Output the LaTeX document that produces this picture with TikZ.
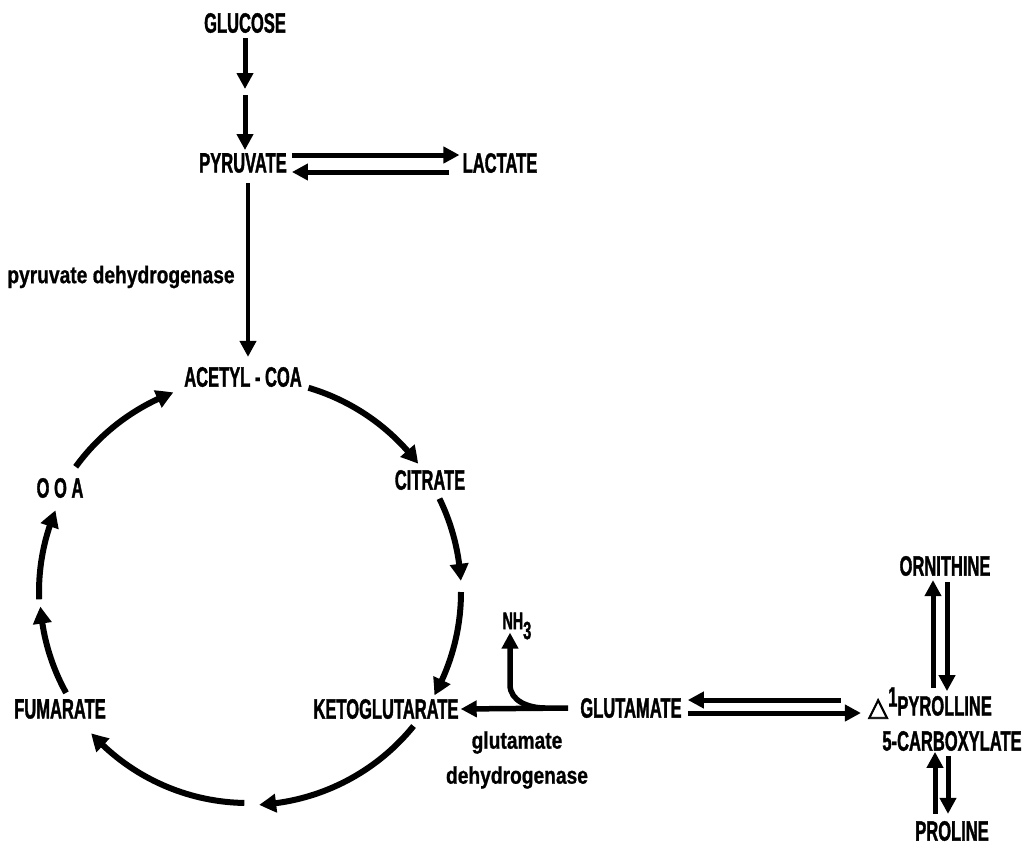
\documentclass[tikz,border=0pt]{standalone}
\usepackage{fontspec}
\setmainfont[FakeStretch=0.59,FakeBold=1.2]{Liberation Sans}
\newfontfamily\lcfont[FakeStretch=0.8,FakeBold=0.8]{Liberation Sans}
\newfontfamily\symfont[FakeBold=3]{DejaVu Sans}
\usetikzlibrary{arrows.meta,bending,calc}
\begin{document}
\begin{tikzpicture}[x=1pt,y=1pt,
  lab/.style={inner sep=0pt, font=\bfseries\fontsize{28}{30}\selectfont},
  enz/.style={inner sep=0pt, align=center, font=\lcfont\bfseries\fontsize{24}{35}\selectfont},
  arr/.style={line width=5pt, -{Triangle[length=16pt,width=16pt]}},
  cyc/.style={line width=6pt, -{Triangle[length=17pt,width=18pt,bend]}}]
\useasboundingbox (0,0) rectangle (1033,-847);
% nodes
\node[lab] (glucose) at (245,-23) {GLUCOSE};
\node[lab] (pyruvate) at (243,-163) {PYRUVATE};
\node[lab] (lactate) at (500,-163) {LACTATE};
\node[enz] (pdh) at (121,-277) {pyruvate dehydrogenase};
\node[lab] (acetyl) at (243,-377) {ACETYL - COA};
\node[lab] (citrate) at (430,-480) {CITRATE};
\node[lab] (keto) at (386,-709) {KETOGLUTARATE};
\node[lab] (fumarate) at (60,-709) {FUMARATE};
\node[lab] (ooa) at (60,-488) {O O A};
\node[lab] (glutamate) at (631,-708) {GLUTAMATE};
\node[enz] (gdh) at (517,-760) {glutamate\\dehydrogenase};
\node[lab, font=\bfseries\fontsize{24}{24}\selectfont] (nh3) at (517,-626) {NH\raisebox{-10pt}{\fontsize{25}{25}\selectfont 3}};
\node[lab] (pyr1) at (930,-703) {{\symfont\fontsize{26}{26}\selectfont △}\raisebox{9pt}{1}PYROLLINE};
\node[lab] (pyr2) at (952,-741) {5-CARBOXYLATE};
\node[lab] (ornithine) at (945,-566) {ORNITHINE};
\node[lab] (proline) at (952,-831) {PROLINE};
\coordinate (gp) at (245,-92);
\coordinate (c) at (248,-592);
% straight connectors
\draw[arr] ([yshift=-5pt]glucose.south) -- ([yshift=3pt]gp);
\draw[arr] ([yshift=-3pt]gp) -- ($(pyruvate.north -| gp)+(0,3)$);
\draw[arr] ($(pyruvate.east)+(5,8)$) -- ($(lactate.west)+(-3,8)$);
\draw[arr] ($(lactate.west)+(-13,-9)$) -- ($(pyruvate.east)+(5,-9)$);
\draw[arr, line width=4.5pt] ($(pyruvate.south)+(5,-10)$) -- ($(acetyl.north)+(5,10)$);
% cycle
\draw[cyc] ($(c)+(73.5:213)$) arc[start angle=73.5, end angle=37, radius=213];
\draw[cyc] ($(c)+(26:213)$) arc[start angle=26, end angle=3, radius=213];
\draw[cyc] ($(c)+(0:213)$) arc[start angle=0, end angle=-29, radius=213];
\draw[cyc] ($(c)+(-39:213)$) arc[start angle=-39, end angle=-87, radius=213];
\draw[cyc] ($(c)+(-91:211)$) arc[start angle=-91, end angle=-138, radius=211];
\draw[cyc] ($(c)+(-151:208)$) arc[start angle=-151, end angle=-176, radius=208];
\draw[cyc] ($(c)+(-178:209)$) arc[start angle=-178, end angle=-203, radius=209];
\draw[cyc] ($(c)+(144:213)$) arc[start angle=144, end angle=110.5, radius=213];
% glutamate branch
\draw[arr, line width=5.5pt] ($(glutamate.west)+(-12,0)$) -- ($(keto.east)+(2,0)$);
\draw[arr, line width=5.5pt] ($(glutamate.west)+(-35,0)$) to[out=180,in=-90] ($(nh3.south)+(-7,-45)$) -- ($(nh3.south)+(-7,7)$);
\draw[arr] ($(pyr1.west |- glutamate.east)+(-27,8)$) -- ($(glutamate.east)+(6,8)$);
\draw[arr] ($(glutamate.east)+(6,-5)$) -- ($(pyr1.west |- glutamate.east)+(-7,-5)$);
% ornithine / proline
\draw[arr] ($(ornithine.south)+(-12,-112)$) -- ($(ornithine.south)+(-12,-4)$);
\draw[arr] ($(ornithine.south)+(2,-6)$) -- ($(ornithine.south)+(2,-115)$);
\draw[arr] ($(proline.north)+(-17,7)$) -- ($(proline.north)+(-17,69)$);
\draw[arr] ($(proline.north)+(-4,65)$) -- ($(proline.north)+(-4,7)$);
\end{tikzpicture}
\end{document}
